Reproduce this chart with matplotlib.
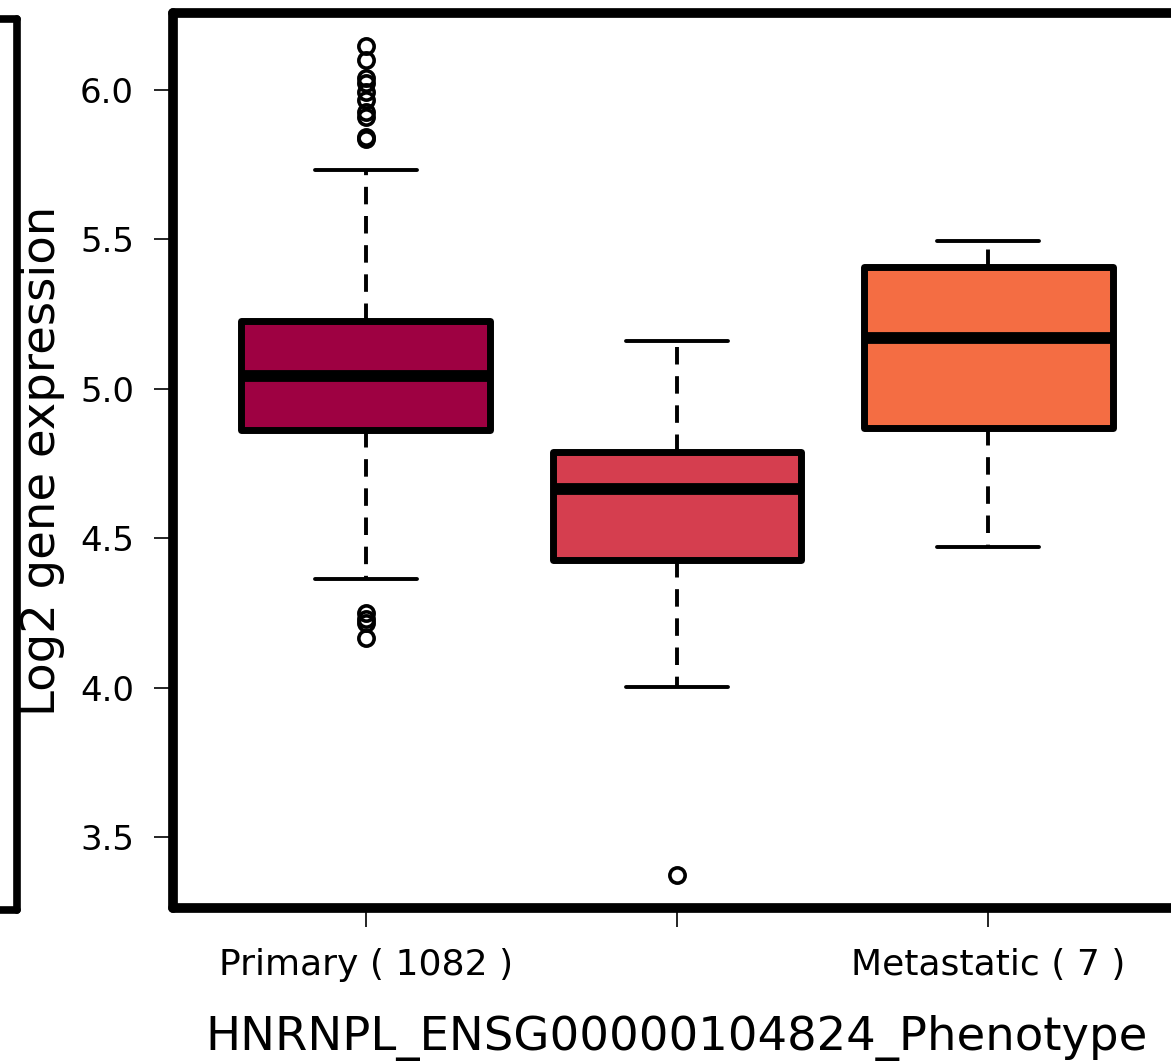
import matplotlib
matplotlib.use("Agg")
import matplotlib.pyplot as plt

# ---- data ----
groups = ["Primary", "Solid", "Metastatic"]
tick_labels = ["Primary ( 1082 )", "", "Metastatic ( 7 )"]
q1 = [4.862, 4.427, 4.869]
med = [5.043, 4.665, 5.170]
q3 = [5.227, 4.789, 5.408]
whislo = [4.363, 4.002, 4.471]
whishi = [5.732, 5.160, 5.495]
fliers_primary = [6.147, 6.100, 6.040, 6.023, 5.993, 5.967, 5.926, 5.910,
                  5.843, 5.836, 4.250, 4.230, 4.217, 4.166]
fliers_solid = [3.373]
fliers_meta = []
colors = ["#9E0142", "#D53E4F", "#F46D43"]
x_label = "HNRNPL_ENSG00000104824_Phenotype"
y_label = "Log2 gene expression"
y_ticks = [3.5, 4.0, 4.5, 5.0, 5.5, 6.0]

W, H = 1171, 1062
fig = plt.figure(figsize=(W / 100, H / 100), dpi=100)

# left, partially visible neighbouring panel frame
axL = fig.add_axes([(-600) / W, (H - 910) / H, (17 + 600) / W, (910 - 19) / H])
axL.set_xticks([])
axL.set_yticks([])
for s in axL.spines.values():
    s.set_linewidth(5.5)
    s.set_capstyle("round")

left, right, top, bottom = 173, 1181, 13, 908
ax = fig.add_axes([left / W, (H - bottom) / H, (right - left) / W, (bottom - top) / H])

fliers = [fliers_primary, fliers_solid, fliers_meta]
stats = []
for i in range(len(groups)):
    stats.append(dict(med=med[i], q1=q1[i], q3=q3[i], whislo=whislo[i],
                      whishi=whishi[i], fliers=fliers[i], label=tick_labels[i]))

pos = [1, 2, 3]
bp = ax.bxp(stats, positions=pos, widths=0.8, capwidths=0.33, patch_artist=True,
            showfliers=True,
            boxprops=dict(linewidth=5, edgecolor="black", joinstyle="round"),
            medianprops=dict(linewidth=8.5, color="black", solid_capstyle="butt"),
            whiskerprops=dict(linewidth=2.8, color="black", linestyle=(0, (4.5, 3))),
            capprops=dict(linewidth=2.8, color="black", solid_capstyle="round"),
            flierprops=dict(marker="o", markersize=11, markerfacecolor="none",
                            markeredgecolor="black", markeredgewidth=2.6))
for patch, c in zip(bp["boxes"], colors):
    patch.set_facecolor(c)

ax.set_xlim(0.38, 3.62)
ax.set_ylim(3.2624, 6.2577)
ax.set_yticks(y_ticks)
ax.set_yticklabels([f"{v:.1f}" for v in y_ticks])
ax.set_xticks(pos)
ax.set_xticklabels(tick_labels)

ax.tick_params(axis="y", labelsize=24.5, length=14, width=1.2, pad=14)
ax.tick_params(axis="x", labelsize=26, length=13.5, width=1.2, pad=15)

for s in ax.spines.values():
    s.set_linewidth(7)
    s.set_capstyle("round")

ax.set_xlabel(x_label, fontsize=33.5)
ax.set_ylabel(y_label, fontsize=33.5)
ax.yaxis.set_label_coords(-0.107, 0.5)
ax.xaxis.set_label_coords(0.5, -0.119)

fig.savefig("out.png", dpi=100)
